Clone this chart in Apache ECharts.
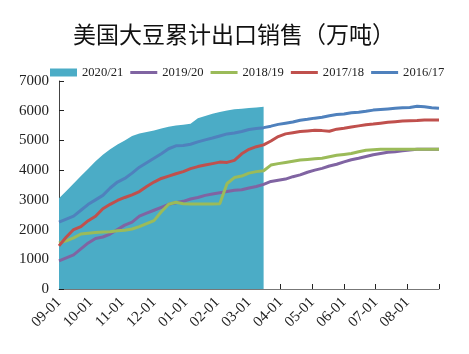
<!DOCTYPE html>
<html>
<head>
<meta charset="utf-8">
<script src="https://cdn.jsdelivr.net/npm/echarts@6/dist/echarts.min.js"></script>
<style>html,body{margin:0;padding:0;background:#fff}#c{width:469px;height:354px}</style>
</head>
<body>
<div id="c"></div>
<script>
// x positions: week index counted from 09-01 (0 .. 52)
const weeks = [0,1,2,3,4,5,6,7,8,9,10,11,12,13,14,15,16,17,18,19,20,21,22,23,24,25,26,27,28,29,30,31,32,33,34,35,36,37,38,39,40,41,42,43,44,45,46,47,48,49,50,51,52];
const monthLabels = ['09-01','10-01','11-01','12-01','01-01','02-01','03-01','04-01','05-01','06-01','07-01','08-01'];
const seriesNames = ['2020/21','2019/20','2018/19','2017/18','2016/17'];

const s2020 = [3050,3300,3550,3800,4050,4300,4520,4700,4860,5000,5150,5230,5280,5330,5400,5460,5500,5530,5560,5750,5820,5900,5960,6010,6050,6070,6090,6110,6130];
const s2019 = [950,1050,1150,1350,1550,1700,1750,1850,2000,2150,2250,2450,2550,2650,2750,2850,2900,2950,3030,3080,3150,3200,3240,3280,3320,3340,3400,3450,3520,3620,3660,3700,3780,3840,3930,4000,4060,4140,4200,4280,4350,4400,4460,4520,4560,4600,4620,4650,4680,4700,4700,4700,4700];
const s2018 = [1550,1620,1720,1850,1880,1900,1920,1930,1960,1980,2020,2100,2200,2300,2600,2850,2920,2870,2860,2860,2860,2860,2870,3550,3750,3800,3900,3950,3980,4170,4220,4260,4300,4340,4360,4380,4400,4450,4500,4530,4560,4620,4670,4690,4700,4700,4700,4700,4700,4700,4700,4700,4700];
const s2017 = [1450,1750,2000,2100,2300,2450,2700,2850,2980,3080,3170,3280,3450,3600,3720,3800,3880,3950,4050,4120,4170,4220,4270,4260,4330,4550,4700,4790,4850,4980,5130,5220,5260,5300,5320,5340,5330,5310,5380,5410,5450,5490,5530,5550,5580,5610,5630,5650,5660,5670,5690,5690,5690];
const s2016 = [2250,2350,2450,2650,2850,3000,3150,3400,3600,3720,3900,4100,4250,4400,4550,4720,4820,4830,4870,4950,5020,5080,5150,5220,5250,5300,5370,5400,5430,5480,5540,5580,5620,5680,5710,5750,5780,5830,5870,5890,5930,5950,5980,6020,6040,6060,6080,6100,6110,6150,6130,6100,6080];

const colors = ['#4bacc6','#8064a2','#9bbb59','#c0504d','#4f81bd'];
const pair = arr => arr.map((v,i) => [weeks[i], v]);
const serif = '"Liberation Serif", "DejaVu Serif", serif';
const lineIcon = 'path://M0,0 L27,0 L27,3 L0,3 Z';

const chart = echarts.init(document.getElementById('c'), null, {renderer:'canvas'});
const lineSeries = (name, arr, color) => ({
  name, type:'line', data: pair(arr), symbol:'none', smooth:false,
  lineStyle:{color, width:3}, itemStyle:{color}, z:3
});
chart.setOption({
  animation:false,
  title:{text:'美国大豆累计出口销售（万吨）', left:68, top:18,
    textStyle:{fontFamily:'"Noto Sans CJK SC", sans-serif', fontSize:23, fontWeight:'normal', color:'#111'}},
  legend:{left:50, top:66, padding:0, itemWidth:27, itemHeight:8, itemGap:7,
    textStyle:{fontFamily:serif, fontSize:12.6, color:'#222'},
    data:[{name:seriesNames[0], icon:'rect'},
      {name:seriesNames[1], icon:lineIcon},
      {name:seriesNames[2], icon:lineIcon},
      {name:seriesNames[3], icon:lineIcon},
      {name:seriesNames[4], icon:lineIcon}]},
  grid:{left:59, right:30, top:81, bottom:65},
  xAxis:{type:'value', min:0, max:52, interval:52/12,
    axisLine:{lineStyle:{color:'#777', width:1}},
    axisTick:{inside:true, length:5, lineStyle:{color:'#222'}},
    splitLine:{show:false},
    axisLabel:{rotate:45, margin:11, fontFamily:serif, fontSize:15, color:'#222',
      formatter:(v, i) => monthLabels[i] !== undefined ? monthLabels[i] : ''}},
  yAxis:{type:'value', min:0, max:7000, interval:1000,
    axisLine:{show:true, lineStyle:{color:'#444'}},
    axisTick:{show:true, inside:true, length:5, lineStyle:{color:'#222'}},
    splitLine:{show:false},
    axisLabel:{margin:10, fontFamily:serif, fontSize:15, color:'#222', formatter:v => String(v)}},
  series:[
    {name:seriesNames[0], type:'line', data:pair(s2020), symbol:'none',
      lineStyle:{width:0, color:colors[0]}, itemStyle:{color:colors[0]},
      areaStyle:{color:colors[0], opacity:1}, z:1},
    lineSeries(seriesNames[1], s2019, colors[1]),
    lineSeries(seriesNames[2], s2018, colors[2]),
    lineSeries(seriesNames[3], s2017, colors[3]),
    lineSeries(seriesNames[4], s2016, colors[4])
  ]
});
</script>
</body>
</html>
